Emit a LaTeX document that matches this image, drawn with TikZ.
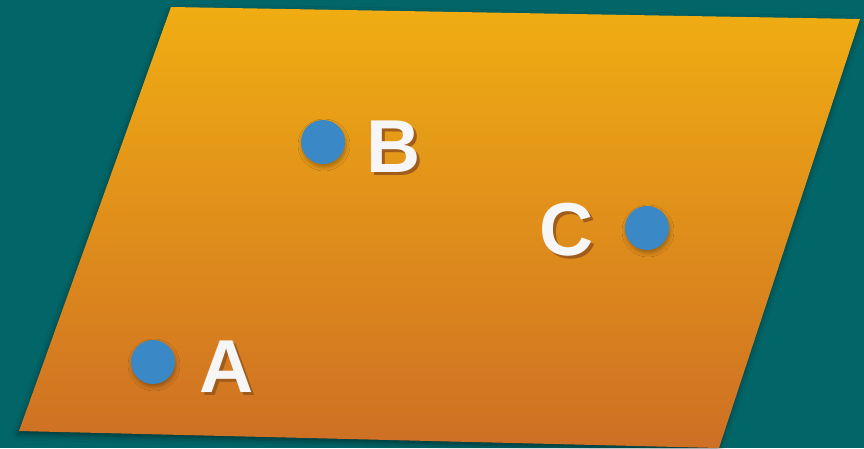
\documentclass[tikz,border=0pt]{standalone}
\usepackage{fontspec}
\usepackage{tikz}
\usetikzlibrary{shadows.blur}
\newfontfamily\labelfont{Liberation Sans}
\definecolor{tealbg}{RGB}{2,102,104}
\definecolor{planetop}{RGB}{240,173,18}
\definecolor{planebot}{RGB}{206,111,36}
\definecolor{dotblue}{RGB}{58,137,198}
\definecolor{labwhite}{RGB}{246,246,246}
\definecolor{labshade}{RGB}{160,92,26}
\newcommand{\shadedlab}[1]{\makebox[0pt][l]{\hspace*{3pt}\raisebox{-3pt}{\textcolor{labshade}{#1}}}#1}

\begin{document}
\begin{tikzpicture}[
    x=1pt, y=-1pt,
    dot/.style={circle, fill=dotblue, minimum size=44pt, inner sep=0pt,
      blur shadow={shadow xshift=1pt, shadow yshift=-3pt, shadow blur radius=4pt, shadow opacity=30}},
    lab/.style={anchor=base, inner sep=0pt, text=labwhite, font=\labelfont\bfseries\fontsize{75}{80}\selectfont}
  ]
    % background
    \fill[tealbg] (0,0) rectangle (864,448);
    \useasboundingbox (0,0) rectangle (864,448);

    % plane
    \coordinate (p1) at (171,7);
    \coordinate (p2) at (860,19);
    \coordinate (p3) at (719,448);
    \coordinate (p4) at (19,431);
    \path[top color=planetop, bottom color=planebot,
      blur shadow={shadow xshift=-1pt, shadow yshift=-3pt, shadow blur radius=6pt, shadow opacity=45}]
      (p1) -- (p2) -- (p3) -- (p4) -- cycle;

    % points
    \node[dot] (dotA) at (153,362) {};
    \node[dot] (dotB) at (323,142) {};
    \node[dot] (dotC) at (647,228) {};

    % labels
    \node[lab] (labA) at (227,392) {\shadedlab{A}};
    \node[lab] (labB) at (394,172) {\shadedlab{B}};
    \node[lab] (labC) at (567,255) {\shadedlab{C}};
  \end{tikzpicture}
\end{document}
